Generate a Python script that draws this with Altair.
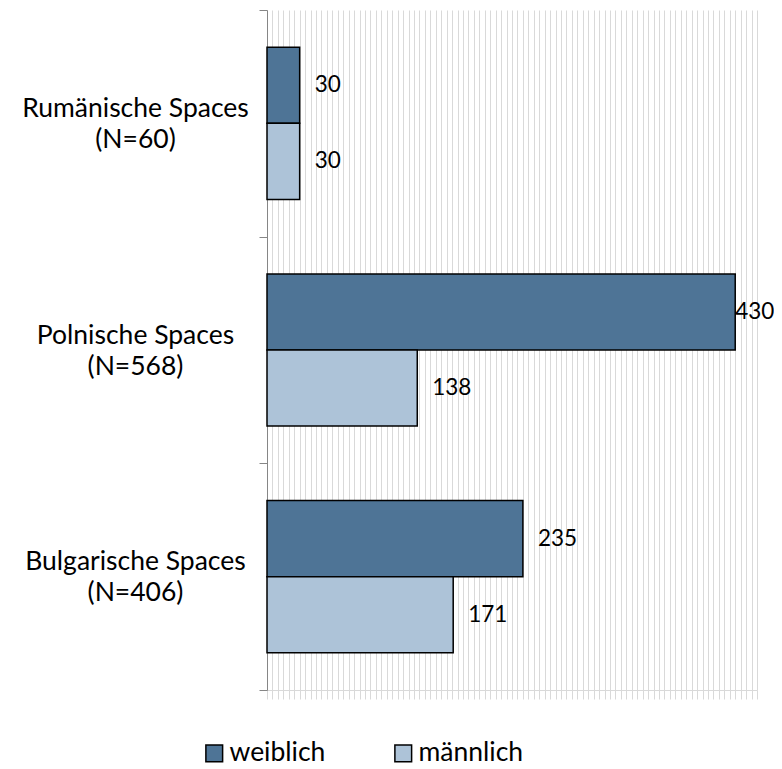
import altair as alt
import pandas as pd

categories = ["Rumänische Spaces|(N=60)", "Polnische Spaces|(N=568)", "Bulgarische Spaces|(N=406)"]
groups = ["weiblich", "männlich"]
weiblich = [30, 430, 235]
maennlich = [30, 138, 171]
colors = ["#4E7496", "#ADC3D8"]
x_max = 450
grid_step = 5

rows = []
for c, w, m in zip(categories, weiblich, maennlich):
    rows.append({"cat": c, "sex": groups[0], "value": w})
    rows.append({"cat": c, "sex": groups[1], "value": m})
df = pd.DataFrame(rows)

FONT = "Lato"

y_enc = alt.Y(
    "cat:N",
    sort=categories,
    scale=alt.Scale(paddingInner=0, paddingOuter=0),
    axis=alt.Axis(
        title=None,
        labelExpr="split(datum.label, '|')",
        labelFont=FONT,
        labelFontSize=26.5,
        labelColor="black",
        labelLineHeight=31,
        labelAlign="center",
        labelBaseline="middle",
        labelOffset=-15,
        labelPadding=124,
        labelLimit=400,
        tickBand="extent",
        tickSize=8,
        tickColor="#868686",
        domainColor="#868686",
        domainWidth=1,
        grid=False,
    ),
)
yoff = alt.YOffset("sex:N", sort=groups, scale=alt.Scale(paddingInner=0, paddingOuter=0.49))
x_enc = alt.X(
    "value:Q",
    scale=alt.Scale(domain=[0, x_max], nice=False, zero=True),
    axis=alt.Axis(
        values=list(range(0, x_max + 1, grid_step)),
        labels=False,
        title=None,
        grid=True,
        gridColor="#d9d9d9",
        gridWidth=1,
        tickColor="#d9d9d9",
        tickSize=9,
        domainColor="#d9d9d9",
    ),
)

bars = alt.Chart(df).mark_bar(stroke="black", strokeWidth=1.5).encode(
    y=y_enc,
    yOffset=yoff,
    x=x_enc,
    color=alt.Color(
        "sex:N",
        sort=groups,
        scale=alt.Scale(domain=groups, range=colors),
        legend=alt.Legend(
            orient="none",
            legendX=-66,
            legendY=730,
            direction="horizontal",
            title=None,
            symbolType="square",
            symbolSize=280,
            symbolStrokeColor="black",
            symbolStrokeWidth=1.5,
            symbolOpacity=1,
            labelFont=FONT,
            labelFontSize=26.5,
            labelColor="black",
            labelOffset=2,
            columnPadding=64,
        ),
    ),
)

text_small = alt.Chart(df).transform_filter("datum.value < 400").mark_text(
    align="left", baseline="middle", dx=15, font=FONT, fontSize=22.5, color="black"
).encode(y=y_enc, yOffset=yoff, x=x_enc, text="value:Q")

text_big = alt.Chart(df).transform_filter("datum.value >= 400").mark_text(
    align="left", baseline="middle", dx=0, font=FONT, fontSize=22.5, color="black"
).encode(y=y_enc, yOffset=yoff, x=x_enc, text="value:Q")

chart = alt.layer(bars, text_small, text_big).properties(
    width=490,
    height=680,
    autosize=alt.AutoSizeParams(type="none"),
    padding={"left": 259, "top": 2, "right": 17, "bottom": 77},
    background="white",
).configure_view(stroke=None)

chart.save("out.html", embed_options={"renderer": "svg", "actions": False})
